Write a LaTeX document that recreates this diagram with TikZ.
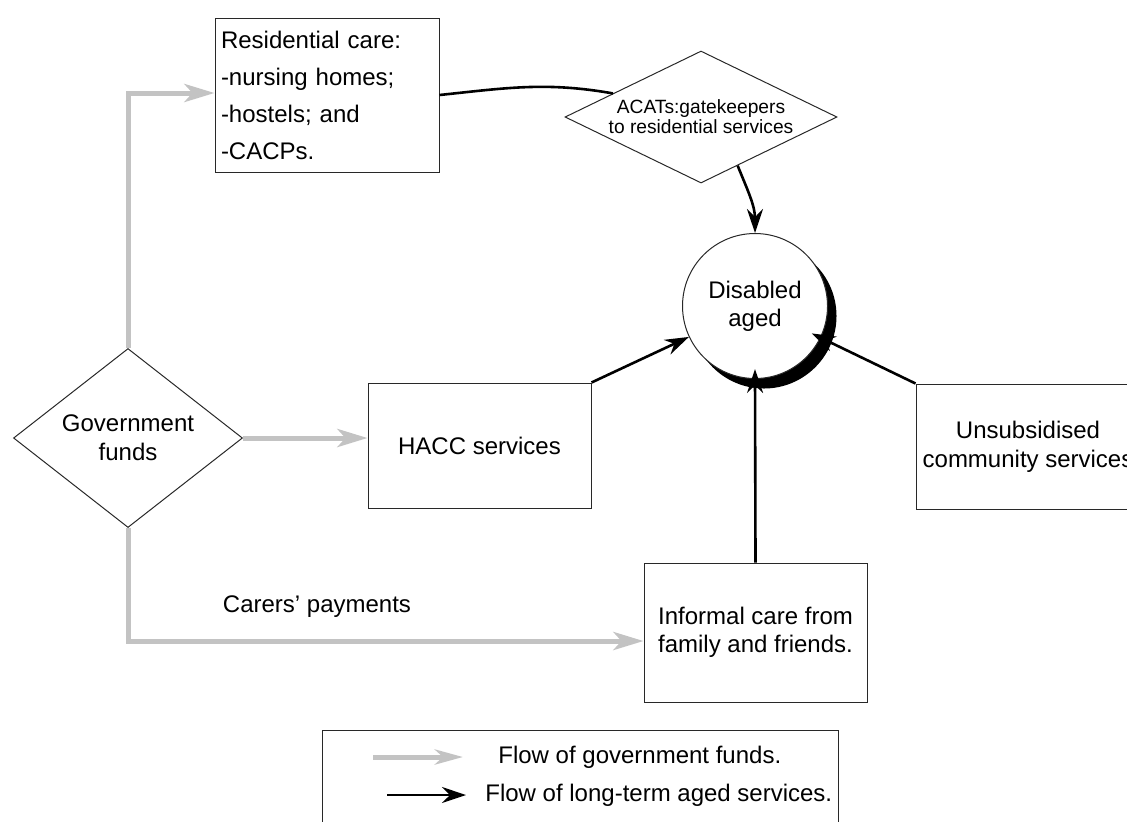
\documentclass[tikz,border=0pt]{standalone}
\usepackage{fontspec}
\setmainfont{Liberation Sans}
\usetikzlibrary{shapes.geometric,arrows.meta,shadows}
\definecolor{fg}{RGB}{195,195,195}
\definecolor{ln}{RGB}{40,40,40}

\begin{document}
\begin{tikzpicture}[
    x=0.5pt, y=-0.5pt,
    font=\fontsize{12pt}{14.5pt}\selectfont,
    box/.style={
        draw=ln, line width=0.5pt, inner sep=0pt, align=center
    },
    dia/.style={
        diamond, draw=ln, line width=0.5pt, inner sep=0pt, align=center
    },
    fund/.style={
        color=fg, line width=2.5pt,
        -{Stealth[length=15pt,width=9pt,inset=4pt]}
    },
    svc/.style={
        line width=1.3pt,
        -{Stealth[length=12pt,width=8pt,inset=4pt]}
    }
]
\useasboundingbox (0,0) rectangle (1127,821);

\node [box, minimum width=112pt, minimum height=77pt, align=left,
       text width=106pt, font=\fontsize{12pt}{18.5pt}\selectfont] (res) at (327,95)
      {Residential care:\\-nursing homes;\\-hostels; and\\-CACPs.};
\node [dia, minimum width=136pt, minimum height=66pt, shape aspect=2.06,
       font=\fontsize{9.6pt}{10pt}\selectfont] (acat) at (701,117)
      {ACATs:gatekeepers\\to residential services};
\node [circle, draw=ln, line width=0.5pt, fill=white, minimum size=72.5pt, inner sep=0pt,
       align=center, font=\fontsize{12pt}{14pt}\selectfont,
       drop shadow={shadow xshift=4.5pt, shadow yshift=-5pt, fill=black, opacity=1}]
      (aged) at (755,306) {Disabled\\aged};
\node [dia, minimum width=114.5pt, minimum height=89.5pt, shape aspect=1.28] (gov) at (128,438)
      {Government\\funds};
\node [box, minimum width=111.5pt, minimum height=62.5pt] (hacc) at (479.5,445.5) {HACC services};
\node [box, minimum width=112pt, minimum height=62.5pt] (unsub) at (1028,446.5)
      {Unsubsidised\\community services};
\node [box, minimum width=111.5pt, minimum height=69.5pt, font=\fontsize{12pt}{14pt}\selectfont]
      (inf) at (755.5,632.5) {Informal care from\\family and friends.};
\node (pay) at (317,607) {Carers’ payments};

% flow of funds
\draw [fund] (gov.north) |- ([yshift=1pt]res.west);
\draw [fund] (gov.east) -- (gov.east -| hacc.west);
\draw [fund] (gov.south) |- ([yshift=-4.25pt]inf.west);

% flow of services
\draw [line width=1.3pt] (res.east) to [out=6,in=170] (acat.165);
\draw [svc] (acat.-53) to [out=-68,in=90] (aged.north);
\draw [svc] (hacc.north east) -- (aged);
\draw [svc, shorten >=-5pt] (unsub.north west) -- (aged);
\draw [svc, shorten >=-5pt] (inf.north) -- (aged.south);

% key
\node [box, anchor=north west, minimum width=258pt, minimum height=60pt] (key) at (322,730) {};
\coordinate (k1a) at (373,757);
\coordinate (k1b) at (463,757);
\coordinate (k2a) at (387,795);
\coordinate (k2b) at (466,795);
\draw [fund, -{Stealth[length=14pt,width=7.5pt,inset=4pt]}] (k1a) -- (k1b);
\draw [svc] (k2a) -- (k2b);
\node [anchor=west, inner sep=0pt] (k1) at (498,757) {Flow of government funds.};
\node [anchor=west, inner sep=0pt] (k2) at (485,795) {Flow of long-term aged services.};

\end{tikzpicture}
\end{document}
